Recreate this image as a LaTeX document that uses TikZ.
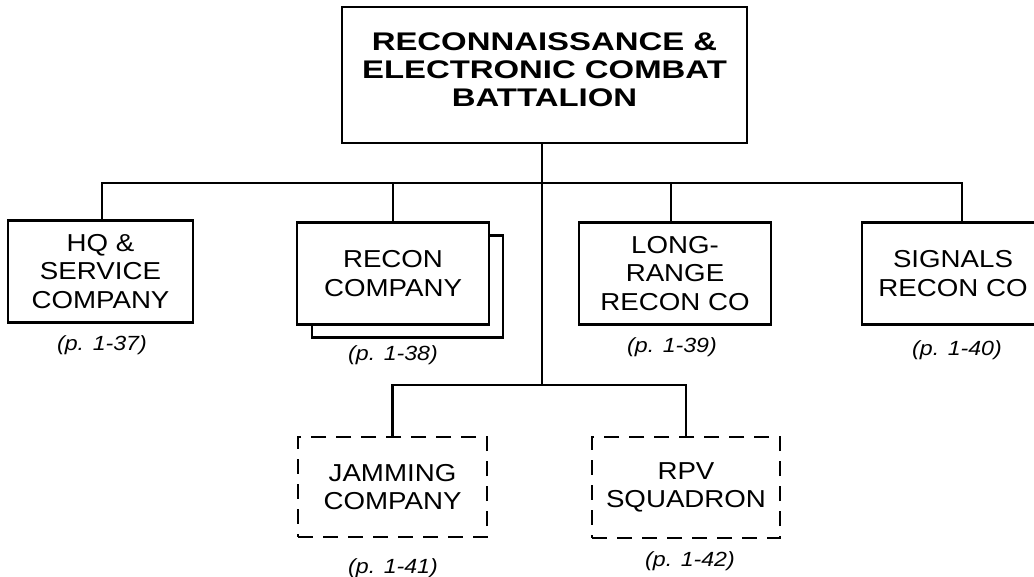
\documentclass[tikz,border=0pt]{standalone}
\usepackage{fontspec}
\setmainfont{Liberation Sans}[
  UprightFeatures={FakeStretch=1.13},
  BoldFeatures={FakeStretch=1.29},
  ItalicFeatures={FakeStretch=1.13}]
\usepackage{tikz}
\begin{document}
\begin{tikzpicture}[
 x=1pt,y=-1pt,
 unit/.style={draw,line width=2.3pt,fill=white,align=center,inner sep=0pt,
   minimum width=188pt,minimum height=102pt,
   font=\fontsize{24.5}{28.5}\selectfont},
 hqbox/.style={unit,line width=2.5pt,minimum width=405pt,minimum height=136pt,
   text depth=11pt,font=\fontsize{25.5}{28}\selectfont\bfseries},
 planned/.style={unit,line width=1.2pt,dash pattern=on 15pt off 10pt},
 pageref/.style={font=\fontsize{20.5}{22}\selectfont\itshape,inner sep=0pt},
 link/.style={line width=2.3pt},
]
\useasboundingbox (0,0) rectangle (1034,577);
% battalion and company boxes
\node[hqbox] (bn) at (544.5,75) {RECONNAISSANCE \&\\ELECTRONIC COMBAT\\BATTALION};
\node[unit,minimum width=185pt] (hq) at (100.5,271.5) {HQ \&\\SERVICE\\COMPANY};
\node[unit,minimum width=191pt] (reconbk) at (407.5,286.5) {};
\node[unit,minimum width=192pt] (recon) at (393,273.5) {RECON\\COMPANY};
\node[unit,minimum width=192pt] (lrr) at (675,273.5) {LONG-\\RANGE\\RECON CO};
\node[unit,minimum width=182pt] (sig) at (953,273.5) {SIGNALS\\RECON CO};
\node[planned,minimum width=189pt,minimum height=100pt] (jam) at (392.5,487) {JAMMING\\COMPANY};
\node[planned,minimum width=188pt,minimum height=101pt] (rpv) at (686,487.5) {RPV\\SQUADRON};
% page references
\node[pageref] (phq) at (102,345) {(p. 1-37)};
\node[pageref] (precon) at (393,355) {(p. 1-38)};
\node[pageref] (plrr) at (672,347) {(p. 1-39)};
\node[pageref] (psig) at (957,350) {(p. 1-40)};
\node[pageref] (pjam) at (393,568) {(p. 1-41)};
\node[pageref] (prpv) at (690,561) {(p. 1-42)};
% connectors
\coordinate (bus) at (542,183);
\coordinate (lowbus) at (542,385);
\draw[link] (bn.south -| bus) -- (lowbus);
\draw[link] ([xshift=1.5pt]hq.north) |- (bus) -| ([xshift=9pt]sig.north);
\draw[link] (recon.north) -- (recon.north |- bus);
\draw[link] ([xshift=-4pt]lrr.north) -- ([xshift=-4pt]lrr.north |- bus);
\draw[link] (jam.north) |- (lowbus) -| (rpv.north);
\end{tikzpicture}
\end{document}
